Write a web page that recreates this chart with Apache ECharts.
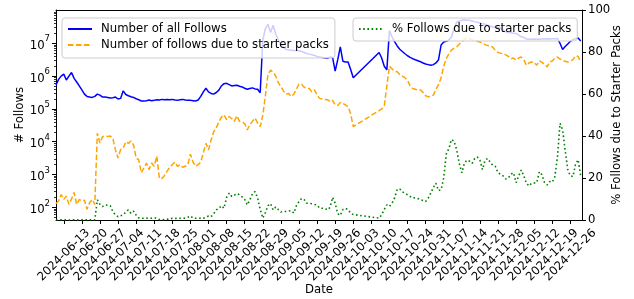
<!DOCTYPE html>
<html>
<head>
<meta charset="utf-8">
<script src="https://cdn.jsdelivr.net/npm/echarts@6/dist/echarts.min.js"></script>
<style>
  html, body { margin: 0; padding: 0; background: #fff; }
  #chart { width: 634px; height: 299px; }
</style>
</head>
<body>
<div id="chart"></div>
<script>
// daily values, first entry is 2024-06-10; null = no data that day
const startDay = [2024, 5, 10];
const endDay = [2024, 11, 30, 12];

const dateTicks = ['2024-06-13', '2024-06-20', '2024-06-27', '2024-07-04', '2024-07-11', '2024-07-18',
  '2024-07-25', '2024-08-01', '2024-08-08', '2024-08-15', '2024-08-22', '2024-08-29', '2024-09-05',
  '2024-09-12', '2024-09-19', '2024-09-26', '2024-10-03', '2024-10-10', '2024-10-17', '2024-10-24',
  '2024-10-31', '2024-11-07', '2024-11-14', '2024-11-21', '2024-11-28', '2024-12-05', '2024-12-12',
  '2024-12-19', '2024-12-26'];

const followTicks = [1e2, 1e3, 1e4, 1e5, 1e6, 1e7];
const pctTicks = [0, 20, 40, 60, 80, 100];

const allFollows = [
  5.37e5, 7.94e5, 1.0e6, 1.15e6, 7.59e5, 1.0e6, 1.29e6, 8.51e5, 6.61e5, 5.01e5,
  3.8e5, 2.82e5, 2.4e5, 2.29e5, 2.24e5, 2.4e5, 2.82e5, 2.63e5, 2.29e5, 2.29e5,
  2.24e5, 2.14e5, 2.19e5, 2.29e5, 2.0e5, 2.09e5, 3.55e5, 2.75e5, 2.51e5, 2.34e5,
  2.24e5, 2.04e5, 1.91e5, 1.74e5, 1.74e5, 1.78e5, 1.86e5, 1.78e5, 1.82e5, 1.91e5,
  1.86e5, 1.95e5, 1.91e5, 1.95e5, 1.91e5, 1.95e5, 1.86e5, 1.82e5, 1.91e5, 1.95e5,
  1.86e5, 1.82e5, 1.82e5, 1.78e5, 1.74e5, 1.86e5, 2.4e5, 3.31e5, 4.27e5, 3.31e5,
  2.95e5, 2.82e5, 3.16e5, 3.72e5, 5.01e5, 5.89e5, 6.03e5, 5.5e5, 5.01e5, 5.13e5,
  5.25e5, 4.9e5, 4.68e5, 4.27e5, 3.98e5, 4.17e5, 4.37e5, 4.07e5, 3.98e5, 3.09e5,
  1.26e7, 2.82e7, 3.8e7, 2.14e7, 3.55e7, 1.91e7, 1.26e7, 9.12e6, 7.59e6, 6.46e6,
  6.31e6, 6.17e6, 6.03e6, 6.03e6, 5.89e6, 5.62e6, 5.25e6, 4.9e6, 4.68e6, 4.47e6,
  4.27e6, 3.98e6, 3.8e6, 3.72e6, 3.55e6, 3.47e6, 3.8e6, 3.72e6, 1.41e6, 3.16e6,
  7.76e6, 2.82e6, 2.69e6, 2.69e6, 1.58e6, 8.91e5,
  null, null, null, null, null, null, null, null, null,
  5.25e6, 3.55e6, 2.0e6, 1.55e6, 2.45e7,
  1.58e7, 1.12e7, 8.32e6, 6.61e6, 5.62e6, 4.79e6, 4.17e6, 3.72e6, 3.39e6, 3.16e6,
  2.95e6, 2.75e6, 2.51e6, 2.34e6, 2.24e6, 2.14e6, 2.24e6, 2.51e6, 3.16e6, 8.91e6,
  1.1e7, 1.15e7, 1.26e7, 1.55e7, 2.82e7, 4.37e7, 4.79e7, 5.01e7, 5.25e7, 5.01e7,
  5.01e7, 4.79e7, 4.57e7, 4.37e7, 4.17e7, 3.98e7, 3.8e7, 3.55e7, 3.31e7, 3.16e7,
  3.09e7, 3.02e7, 2.88e7, 2.51e7, 2.24e7, 2.14e7, 2.09e7, 2.04e7, 2.0e7, 1.78e7,
  1.58e7, 1.51e7, 1.35e7, 1.32e7, 1.32e7, 1.35e7, 1.32e7, 1.32e7, 1.35e7, 1.35e7,
  1.38e7, 1.35e7, 1.38e7, 1.38e7, 1.41e7, 1.0e7, 6.46e6, 7.94e6, 9.55e6, 1.15e7,
  1.29e7, 1.38e7, 1.45e7, 1.17e7
];

const starterFollows = [
  129, 158, 245, 174, 219, 123, 178, 282, 123, 174,
  155, 166, 87, 138, 174, 123, 18200, 9120, 14100, 15100,
  14500, 14800, 12600, 5620, 3160, 5750, 6310, 10000, 8910, 10500,
  7940, 3160, 2820, 1120, 1580, 2240, 1410, 2240, 1780, 3630,
  759, 759, 933, 1260, 1660, 2000, 2400, 1780, 2000, 1660,
  1780, 2000, 4170, 2400, 1780, 2000, 2400, 4570, 8910, 5620,
  11200, 20000, 26300, 39800, 56200, 66100, 46800, 58900, 50100, 41700,
  61700, 41700, 39800, 35500, 22900, 33100, 41700, 52500, 37200, 28800,
  63100, 251000, 1120000, 1510000, 1320000, 1000000, 631000, 479000, 355000, 282000,
  295000, 240000, 282000, 398000, 575000, 562000, 457000, 427000, 417000, 331000,
  380000, 263000, 209000, 200000, 195000, 191000, 166000, 182000, 132000, 126000,
  158000, 148000, 132000, 117000, 70800, 28800,
  null, null, null, null, null, null, null, null, null,
  89100, 100000, 126000, 501000, 2000000,
  1660000, 1410000, 1350000, 1120000, 1000000, 891000, 741000, 501000, 417000, 398000,
  372000, 380000, 316000, 251000, 234000, 240000, 263000, 398000, 562000, 891000,
  2.0e6, 3.47e6, 4.79e6, 6.17e6, 7.08e6, 7.76e6, 9.33e6, 1.1e7, 1.32e7, 1.48e7,
  1.38e7, 1.26e7, 1.2e7, 1.15e7, 1.1e7, 1.0e7, 9.12e6, 8.51e6, 8.32e6, 7.59e6,
  6.03e6, 5.25e6, 5.01e6, 4.79e6, 4.47e6, 3.98e6, 3.39e6, 3.55e6, 3.02e6, 3.55e6,
  3.8e6, 3.16e6, 2.14e6, 2.51e6, 2.69e6, 2.63e6, 2.14e6, 2.95e6, 2.63e6, 2.29e6,
  1.91e6, 2.69e6, 2.88e6, 3.55e6, 3.8e6, 3.31e6, 3.02e6, 2.82e6, 2.69e6, 2.88e6,
  3.16e6, 4.17e6, 3.98e6, 2.69e6
];

const starterPct = [
  0.03, 0.03, 0.04, 0.03, 0.04, 0.02, 0.03, 0.05, 0.03, 0.04,
  0.04, 0.06, 0.04, 0.06, 0.08, 0.05, 9.6, 7.5, 6.4, 7.2,
  7.0, 6.8, 4.0, 2.4, 1.6, 2.0, 2.4, 3.8, 4.8, 3.2,
  4.2, 2.4, 1.0, 0.8, 0.8, 0.9, 0.8, 0.9, 1.1, 0.8,
  0.2, 0.1, 0.3, 0.3, 0.5, 0.8, 0.8, 0.7, 0.8, 0.8,
  0.9, 1.3, 1.9, 0.9, 0.8, 0.8, 0.9, 0.8, 1.2, 1.9,
  1.6, 3.0, 4.8, 5.5, 6.8, 5.6, 10.8, 12.8, 11.2, 11.8,
  12.6, 12.0, 11.0, 9.8, 7.2, 9.6, 12.5, 13.5, 10.5, 5.0,
  0.9, 3.5, 6.8, 7.8, 4.8, 6.2, 5.0, 3.8, 4.0, 4.1,
  4.3, 4.4, 3.3, 6.8, 8.8, 10.3, 9.7, 8.0, 7.9, 7.7,
  7.4, 7.1, 5.7, 5.6, 5.6, 4.8, 6.0, 10.8, 8.0, 3.0,
  2.2, 5.0, 5.5, 5.0, 3.2, 2.6,
  null, null, null, null, null, null, null, null, null,
  0.9, 2.5, 5.0, 7.2, 6.5,
  8.0, 10.5, 14.5, 14.8, 13.4, 12.8, 12.0, 11.2, 10.5, 10.6,
  10.2, 9.7, 9.3, 8.8, 10.4, 12.8, 15.5, 17.5, 14.0, 14.5,
  20.0, 31.5, 34.0, 38.3, 37.5, 33.5, 27.0, 22.5, 27.0, 28.5,
  28.0, 27.0, 29.3, 30.0, 28.5, 24.0, 28.5, 29.3, 27.5, 26.0,
  25.5, 22.5, 21.8, 21.0, 19.5, 20.0, 21.8, 22.5, 17.8, 21.0,
  23.8, 21.0, 17.5, 16.2, 17.5, 17.6, 17.8, 23.0, 21.5, 17.8,
  16.7, 18.3, 18.0, 20.7, 30.0, 46.0, 43.0, 33.0, 24.0, 21.0,
  20.7, 26.5, 28.7, 21.0
];

const FONT = "'DejaVu Sans', sans-serif";
const FS = 11.7;

function dayTime(i) {
  return new Date(startDay[0], startDay[1], startDay[2] + i).getTime();
}
function parseDay(s) {
  const p = s.split('-').map(Number);
  return new Date(p[0], p[1] - 1, p[2]).getTime();
}
function fmtDay(v) {
  const d = new Date(v);
  return d.getFullYear() + '-' + String(d.getMonth() + 1).padStart(2, '0') + '-' +
    String(d.getDate()).padStart(2, '0');
}
function pairs(arr) {
  return arr.map((v, i) => [dayTime(i), v]);
}

const tickTimes = dateTicks.map(parseDay);
const minorFollowTicks = [];
for (let e = 1; e <= 7; e++) {
  for (let m = 2; m <= 9; m++) minorFollowTicks.push(m * Math.pow(10, e));
}
const yMin = 41, yMax = 1.035e8;
const minorInRange = minorFollowTicks.filter(v => v > yMin && v < yMax);

const legendBase = {
  orient: 'vertical',
  itemWidth: 24, itemHeight: 14, itemGap: 4,
  backgroundColor: 'rgba(255,255,255,0.8)', borderColor: '#cccccc', borderWidth: 1, borderRadius: 3,
  itemStyle: { opacity: 0 },
  textStyle: { fontFamily: FONT, fontSize: FS, color: '#000', padding: [0, 0, 0, 4] }
};

const chart = echarts.init(document.getElementById('chart'));

chart.setOption({
  animation: false,
  textStyle: { fontFamily: FONT },
  grid: { left: 56, right: 52, top: 10, bottom: 79, outerBoundsMode: 'none', containLabel: false },
  legend: [
    Object.assign({}, legendBase, {
      data: ['Number of all Follows', 'Number of follows due to starter packs'],
      left: 62, top: 18, padding: [5, 6, 7, 5]
    }),
    Object.assign({}, legendBase, {
      data: ['% Follows due to starter packs'],
      left: 353, top: 18, padding: [5, 6, 6, 5]
    })
  ],
  xAxis: [
    {
      type: 'value',
      min: dayTime(0),
      max: new Date(endDay[0], endDay[1], endDay[2], endDay[3]).getTime(),
      name: 'Date', nameLocation: 'middle', nameGap: 64, nameMoveOverlap: false,
      nameTextStyle: { fontFamily: FONT, fontSize: FS, color: '#000' },
      axisLine: { show: true, onZero: false, lineStyle: { color: '#000', width: 1 } },
      axisTick: { show: true, length: 4, customValues: tickTimes, lineStyle: { color: '#000' } },
      axisLabel: {
        customValues: tickTimes, formatter: v => fmtDay(v), rotate: 45,
        align: 'center', verticalAlign: 'middle', margin: 35, hideOverlap: false,
        fontFamily: FONT, fontSize: FS, color: '#000'
      },
      splitLine: { show: false }
    },
    {
      type: 'value', position: 'top', min: 0, max: 1,
      axisLine: { show: true, onZero: false, lineStyle: { color: '#000', width: 1 } },
      axisTick: { show: false }, axisLabel: { show: false }, splitLine: { show: false }
    }
  ],
  yAxis: [
    {
      type: 'log', logBase: 10, position: 'left', min: yMin, max: yMax,
      name: '# Follows', nameLocation: 'middle', nameGap: 30, nameMoveOverlap: false,
      nameTextStyle: { fontFamily: FONT, fontSize: FS, color: '#000' },
      axisLine: { show: true, lineStyle: { color: '#000', width: 1 } },
      axisTick: { show: true, length: 4, customValues: followTicks, lineStyle: { color: '#000' } },
      axisLabel: {
        customValues: followTicks, margin: 6,
        formatter: v => '{b|10}{s|' + Math.round(Math.log10(v)) + '}',
        rich: {
          b: { fontFamily: FONT, fontSize: FS, color: '#000', verticalAlign: 'bottom', padding: [5, 0, 0, 0] },
          s: { fontFamily: FONT, fontSize: 8.5, color: '#000', verticalAlign: 'top' }
        }
      },
      splitLine: { show: false }
    },
    {
      type: 'value', position: 'right', min: 0, max: 100, interval: 20,
      name: '% Follows due to Starter Packs', nameLocation: 'middle', nameRotate: 90, nameGap: 29,
      nameMoveOverlap: false,
      nameTextStyle: { fontFamily: FONT, fontSize: FS, color: '#000' },
      axisLine: { show: true, lineStyle: { color: '#000', width: 1 } },
      axisTick: { show: true, length: 4, lineStyle: { color: '#000' } },
      axisLabel: { margin: 6, fontFamily: FONT, fontSize: FS, color: '#000' },
      splitLine: { show: false }
    },
    {
      type: 'log', logBase: 10, position: 'left', min: yMin, max: yMax,
      axisLine: { show: false },
      axisTick: { show: true, length: 2, customValues: minorInRange, lineStyle: { color: '#000', width: 0.8 } },
      axisLabel: { show: false },
      splitLine: { show: false }
    }
  ],
  series: [
    {
      name: 'Number of all Follows', type: 'line', xAxisIndex: 0, yAxisIndex: 0,
      data: pairs(allFollows), symbol: 'none', connectNulls: true,
      lineStyle: { color: '#0000ff', width: 1.5 }, itemStyle: { color: '#0000ff' },
      emphasis: { disabled: true }, z: 2
    },
    {
      name: 'Number of follows due to starter packs', type: 'line', xAxisIndex: 0, yAxisIndex: 0,
      data: pairs(starterFollows), symbol: 'none', connectNulls: true,
      lineStyle: { color: '#ffa500', width: 1.5, type: [5.5, 2.5] }, itemStyle: { color: '#ffa500' },
      emphasis: { disabled: true }, z: 2
    },
    {
      name: '% Follows due to starter packs', type: 'line', xAxisIndex: 0, yAxisIndex: 1,
      data: pairs(starterPct), symbol: 'none', connectNulls: true,
      lineStyle: { color: '#008000', width: 1.6, type: [1.6, 2.6] }, itemStyle: { color: '#008000' },
      emphasis: { disabled: true }, z: 2
    }
  ]
});
</script>
</body>
</html>
